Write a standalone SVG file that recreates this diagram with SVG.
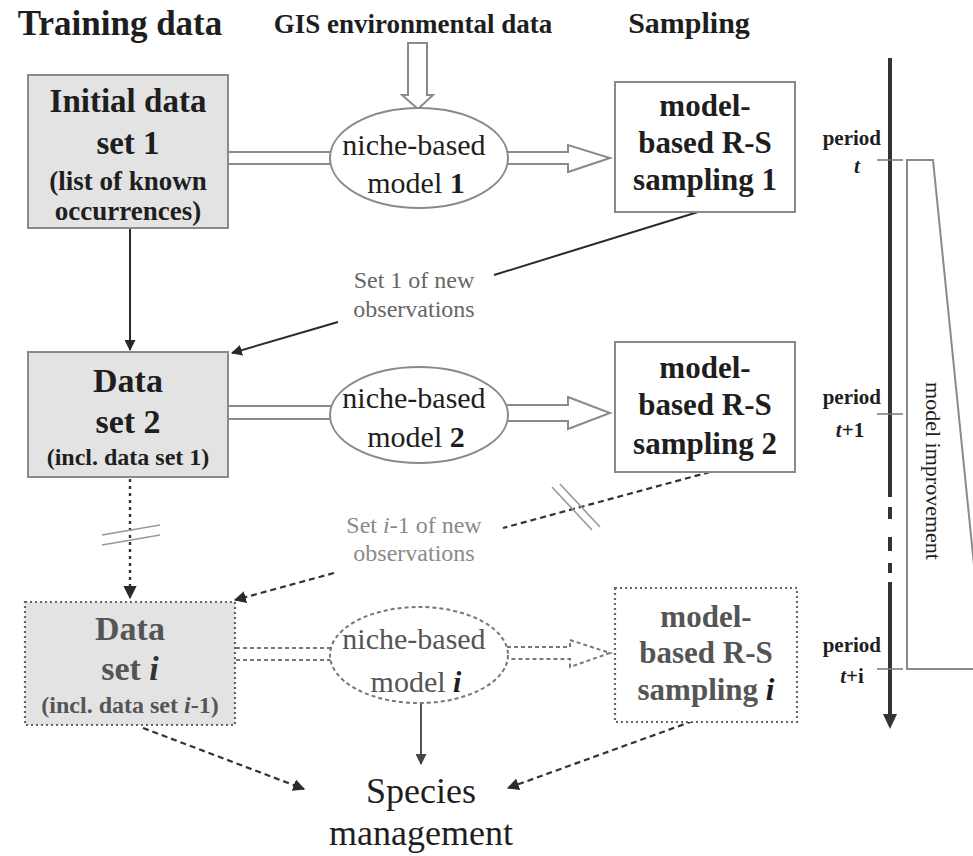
<svg xmlns="http://www.w3.org/2000/svg" width="973" height="856" viewBox="0 0 973 856">
<style>
text{font-family:"Liberation Serif","Times New Roman",serif;fill:#1e1e1e}
.b{font-weight:bold}
.it{font-style:italic}
.t{text-anchor:middle}
.gray{fill:#555}
.lbl{fill:#666;font-size:24px}
.lbl2{fill:#8a8a8a;font-size:24px}
.box{fill:#e3e3e3;stroke:#8a8a8a;stroke-width:2}
.wbox{fill:#fff;stroke:#8a8a8a;stroke-width:2}
.dbox{fill:#e3e3e3;stroke:#666;stroke-width:2.2;stroke-dasharray:2 3}
.dwbox{fill:#fff;stroke:#666;stroke-width:2.2;stroke-dasharray:2 3}
.ell{fill:#fff;stroke:#8a8a8a;stroke-width:2}
.dell{fill:#fff;stroke:#777;stroke-width:2;stroke-dasharray:4 3}
.hol{fill:#fff;stroke:#8a8a8a;stroke-width:2}
.dhol{fill:#fff;stroke:#777;stroke-width:2;stroke-dasharray:4 3}
.ln{stroke:#2a2a2a;stroke-width:2;fill:none}
.dln{stroke:#333;stroke-width:2.2;fill:none;stroke-dasharray:6 4}
.dot{stroke:#333;stroke-width:2.4;fill:none;stroke-dasharray:3 4}
.cross{stroke:#999;stroke-width:1.6;fill:none}
.tick{stroke:#777;stroke-width:1.5}
</style>
<defs>
<marker id="ah" viewBox="0 0 10 10" refX="9" refY="5" markerWidth="5.5" markerHeight="5.5" orient="auto" markerUnits="strokeWidth">
<path d="M0,0 L10,5 L0,10 z" fill="#2a2a2a"/>
</marker>
<marker id="ahg" viewBox="0 0 10 10" refX="9" refY="5" markerWidth="5.5" markerHeight="5.5" orient="auto" markerUnits="strokeWidth">
<path d="M0,0 L10,5 L0,10 z" fill="#444"/>
</marker>
</defs>

<!-- headers -->
<g id="headers">
<text x="120" y="35" class="b t" font-size="35">Training data</text>
<text x="413" y="33" class="b t" font-size="27">GIS environmental data</text>
<text x="689" y="33" class="b t" font-size="30">Sampling</text>
</g>

<!-- connectors -->
<g id="connectors">
<!-- GIS hollow arrow -->
<path class="hol" d="M408,43 L427,43 L427,95 L433,95 L418,109 L402,95 L408,95 Z"/>
<!-- row 1 -->
<line x1="228" y1="152" x2="332" y2="152" stroke="#8a8a8a" stroke-width="2"/>
<line x1="228" y1="164" x2="332" y2="164" stroke="#8a8a8a" stroke-width="2"/>
<path class="hol" d="M507,152 L568,152 L568,145 L610,158 L568,172 L568,164 L507,164"/>
<!-- box1 -> box2 -->
<line class="ln" x1="130" y1="228" x2="130" y2="350" marker-end="url(#ah)"/>
<!-- sampling1 -> label -> box2 -->
<line class="ln" x1="698" y1="212" x2="494" y2="275"/>
<line class="ln" x1="338" y1="322" x2="232" y2="353" marker-end="url(#ah)"/>
<!-- row 2 -->
<line x1="228" y1="406" x2="332" y2="406" stroke="#8a8a8a" stroke-width="2"/>
<line x1="228" y1="419" x2="332" y2="419" stroke="#8a8a8a" stroke-width="2"/>
<path class="hol" d="M507,405 L568,405 L568,397 L610,413 L568,429 L568,421 L507,421"/>
<!-- box2 -> box i dotted -->
<line class="dot" x1="130" y1="479" x2="130" y2="598" marker-end="url(#ah)"/>
<line class="cross" x1="102" y1="535" x2="160" y2="525"/>
<line class="cross" x1="102" y1="545" x2="160" y2="535"/>
<!-- sampling2 -> label i-1 -> box i -->
<line class="dln" x1="710" y1="472" x2="503" y2="528"/>
<line class="cross" x1="552" y1="487" x2="592" y2="530"/>
<line class="cross" x1="560" y1="484" x2="600" y2="527"/>
<line class="dln" x1="334" y1="573" x2="235" y2="600" marker-end="url(#ah)"/>
<!-- row i -->
<line x1="236" y1="648" x2="332" y2="648" stroke="#777" stroke-width="2" stroke-dasharray="4 3"/>
<line x1="236" y1="660" x2="332" y2="660" stroke="#777" stroke-width="2" stroke-dasharray="4 3"/>
<path class="dhol" d="M507,647 L570,647 L570,640 L610,653 L570,667 L570,659 L507,659"/>
<!-- to species management -->
<line x1="421" y1="703" x2="421" y2="764" stroke="#555" stroke-width="2" marker-end="url(#ahg)"/>
<line class="dln" x1="143" y1="728" x2="304" y2="789" marker-end="url(#ah)"/>
<line class="dln" x1="693" y1="721" x2="508" y2="788" marker-end="url(#ah)"/>
</g>

<!-- nodes -->
<g id="box1">
<rect class="box" x="28" y="75" width="200" height="153"/>
<text x="128" y="112" class="b t" font-size="33">Initial data</text>
<text x="128" y="154" class="b t" font-size="33">set 1</text>
<text x="128" y="190" class="b t" font-size="27">(list of known</text>
<text x="128" y="220" class="b t" font-size="27">occurrences)</text>
</g>

<g id="ellipse1">
<ellipse class="ell" cx="419" cy="158" rx="89" ry="50"/>
<text x="414" y="155" class="t" font-size="30">niche-based</text>
<text x="416" y="193" class="t" font-size="30">model <tspan class="b">1</tspan></text>
</g>

<g id="sampling1">
<rect class="wbox" x="615" y="82" width="180" height="130"/>
<text x="705" y="116" class="b t" font-size="31">model-</text>
<text x="705" y="153" class="b t" font-size="31">based R-S</text>
<text x="705" y="190" class="b t" font-size="31">sampling 1</text>
</g>

<g id="label1">
<text x="414" y="288" class="lbl t">Set 1 of new</text>
<text x="414" y="317" class="lbl t">observations</text>
</g>

<g id="box2">
<rect class="box" x="28" y="352" width="200" height="125"/>
<text x="128" y="392" class="b t" font-size="34">Data</text>
<text x="128" y="433" class="b t" font-size="34">set 2</text>
<text x="128" y="465" class="b t" font-size="24">(incl. data set 1)</text>
</g>

<g id="ellipse2">
<ellipse class="ell" cx="419" cy="415" rx="89" ry="48"/>
<text x="414" y="408" class="t" font-size="30">niche-based</text>
<text x="416" y="447" class="t" font-size="30">model <tspan class="b">2</tspan></text>
</g>

<g id="sampling2">
<rect class="wbox" x="615" y="342" width="180" height="130"/>
<text x="705" y="378" class="b t" font-size="31">model-</text>
<text x="705" y="415" class="b t" font-size="31">based R-S</text>
<text x="705" y="454" class="b t" font-size="31">sampling 2</text>
</g>

<g id="label2">
<text x="414" y="533" class="lbl2 t">Set <tspan class="it">i</tspan>-1 of new</text>
<text x="414" y="561" class="lbl2 t">observations</text>
</g>

<g id="boxi">
<rect class="dbox" x="25" y="602" width="210" height="123"/>
<text x="130" y="640" class="b t gray" font-size="34">Data</text>
<text x="130" y="680" class="b t gray" font-size="34">set <tspan class="it" fill="#333">i</tspan></text>
<text x="130" y="713" class="b t gray" font-size="24">(incl. data set <tspan class="it">i</tspan>-1)</text>
</g>

<g id="ellipsei">
<ellipse class="dell" cx="419" cy="655" rx="89" ry="48"/>
<text x="414" y="649" class="t gray" font-size="30">niche-based</text>
<text x="416" y="692" class="t gray" font-size="30">model <tspan class="b it" fill="#1e1e1e">i</tspan></text>
</g>

<g id="samplingi">
<rect class="dwbox" x="615" y="588" width="182" height="134"/>
<text x="706" y="627" class="b t gray" font-size="31">model-</text>
<text x="706" y="663" class="b t gray" font-size="31">based R-S</text>
<text x="706" y="700" class="b t gray" font-size="31">sampling <tspan class="it" fill="#1e1e1e">i</tspan></text>
</g>

<g id="species">
<text x="421" y="803" class="t" font-size="36" fill="#333">Species</text>
<text x="421" y="845" class="t" font-size="36" fill="#333">management</text>
</g>

<!-- timeline -->
<g id="timeline">
<line x1="890" y1="58" x2="890" y2="497" stroke="#333" stroke-width="4"/>
<line x1="890" y1="507" x2="890" y2="519" stroke="#333" stroke-width="4"/>
<line x1="890" y1="537" x2="890" y2="551" stroke="#333" stroke-width="4"/>
<line x1="890" y1="563" x2="890" y2="573" stroke="#333" stroke-width="4"/>
<line x1="890" y1="582" x2="890" y2="716" stroke="#333" stroke-width="4"/>
<path d="M883,714 L897,714 L890,729 Z" fill="#333"/>
<line class="tick" x1="877" y1="160" x2="903" y2="160"/>
<line class="tick" x1="877" y1="414" x2="903" y2="414"/>
<line class="tick" x1="877" y1="669" x2="903" y2="669"/>
<text x="881" y="145" class="b" font-size="21" text-anchor="end">period</text>
<text x="857" y="173" class="b it t" font-size="21">t</text>
<text x="881" y="404" class="b" font-size="21" text-anchor="end">period</text>
<text x="850" y="437" class="b t" font-size="21"><tspan class="it">t</tspan>+1</text>
<text x="881" y="652" class="b" font-size="21" text-anchor="end">period</text>
<text x="852" y="683" class="b t" font-size="21"><tspan class="it">t</tspan>+i</text>
</g>

<g id="improvement">
<path d="M985,669 L907,669 L907,160 L933,160 L985,674" fill="none" stroke="#8a8a8a" stroke-width="2"/>
<text transform="translate(926,471) rotate(90)" class="t" font-size="22" fill="#555">model improvement</text>
</g>
</svg>
